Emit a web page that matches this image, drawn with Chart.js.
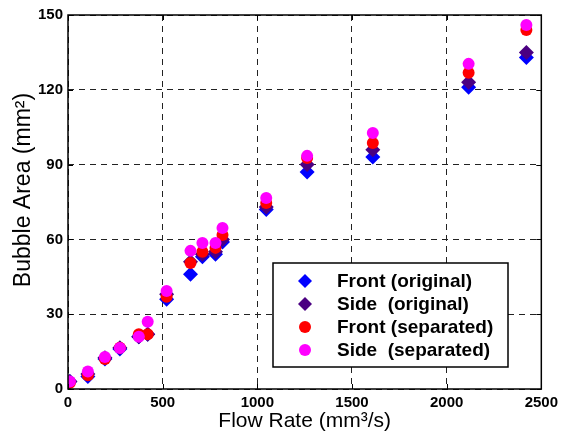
<!DOCTYPE html>
<html><head><meta charset="utf-8">
<script src="https://cdn.jsdelivr.net/npm/chart.js@4/dist/chart.umd.min.js"></script>
<style>html,body{margin:0;padding:0;background:#fff;}#wrap{width:563px;height:441px;position:relative;}</style>
</head><body><div id="wrap"><canvas id="c" width="563" height="441"></canvas></div>
<script>
const flowRates = [10, 105, 195, 274, 374, 421, 521, 647, 710, 779, 816, 1047, 1263, 1610, 2116, 2421];
const frontOriginal = [3, 5, 12, 16, 21, 22, 36, 46, 53, 54, 59, 72, 87, 93, 121, 133];
const sideOriginal = [3, 6, 12.5, 16.5, 21, 22, 38, 51, 54, 55, 60, 73, 90, 96, 123, 135];
const frontSeparated = [2.5, 5.5, 12, 16.5, 22, 22, 37, 50.5, 55, 56.6, 61.8, 74.6, 92.6, 98.7, 126.8, 144];
const sideSeparated = [3, 7, 12.8, 16.4, 21, 27, 39.3, 55.4, 58.6, 58.6, 64.6, 76.6, 93.5, 102.7, 130.4, 146];
const seriesLabels = ['Front (original)', 'Side  (original)', 'Front (separated)', 'Side  (separated)'];
const xTickValues = [0, 500, 1000, 1500, 2000, 2500];
const yTickValues = [0, 30, 60, 90, 120, 150];
const yTitleText = 'Bubble Area (mm²)';

const FONT = '"Liberation Sans", Arial, sans-serif';
function pts(ys){ return flowRates.map((x,i)=>({x:x,y:ys[i]})); }

const boxPlugin = {
  id:'box',
  afterDraw(chart){
    const {ctx, chartArea:a} = chart;
    const xs = chart.scales.x, ys = chart.scales.y;
    ctx.save();
    ctx.strokeStyle = '#000'; ctx.lineWidth = 1.5; ctx.setLineDash([]);
    ctx.strokeRect(a.left, a.top, a.right-a.left, a.bottom-a.top);
    ctx.lineWidth = 1;
    ctx.beginPath();
    xTickValues.forEach(v=>{
      const px = Math.round(xs.getPixelForValue(v))+0.5;
      ctx.moveTo(px, a.bottom); ctx.lineTo(px, a.bottom-5);
      ctx.moveTo(px, a.top); ctx.lineTo(px, a.top+5);
    });
    yTickValues.forEach(v=>{
      const py = Math.round(ys.getPixelForValue(v))+0.5;
      ctx.moveTo(a.left, py); ctx.lineTo(a.left+5, py);
      ctx.moveTo(a.right, py); ctx.lineTo(a.right-5, py);
    });
    ctx.stroke();
    // y axis title
    ctx.save();
    ctx.translate(24, 190);
    ctx.rotate(-Math.PI/2);
    ctx.font = '23px ' + FONT;
    ctx.fillStyle = '#000';
    ctx.textAlign = 'center';
    ctx.textBaseline = 'middle';
    ctx.fillText(yTitleText, 0, 0);
    ctx.restore();
    // legend
    const lx = 273, ly = 263, lw = 235, lh = 104;
    ctx.fillStyle = '#fff';
    ctx.fillRect(lx, ly, lw, lh);
    ctx.lineWidth = 1.5;
    ctx.strokeRect(lx, ly, lw, lh);
    const dsList = chart.data.datasets;
    ctx.font = 'bold 19px ' + FONT;
    ctx.textBaseline = 'middle';
    ctx.textAlign = 'left';
    seriesLabels.forEach((lab,i)=>{
      const ds = dsList.find(d=>d.label===lab);
      const cy = ly + 18 + i*23;
      ctx.fillStyle = ds.backgroundColor;
      ctx.beginPath();
      if (ds.pointStyle === 'rectRot') {
        ctx.moveTo(305-7,cy); ctx.lineTo(305,cy-7); ctx.lineTo(305+7,cy); ctx.lineTo(305,cy+7); ctx.closePath();
      } else {
        ctx.arc(305, cy, 6, 0, Math.PI*2);
      }
      ctx.fill();
      ctx.fillStyle = '#000';
      ctx.fillText(lab, 337, cy+1);
    });
    ctx.restore();
  }
};

new Chart(document.getElementById('c'), {
  type:'scatter',
  data:{datasets:[
    {label:seriesLabels[0], data:pts(frontOriginal), backgroundColor:'#0000ff', borderColor:'#0000ff', pointStyle:'rectRot', pointRadius:7.5, borderWidth:0, order:3},
    {label:seriesLabels[1], data:pts(sideOriginal), backgroundColor:'#4b0082', borderColor:'#4b0082', pointStyle:'rectRot', pointRadius:7.5, borderWidth:0, order:2},
    {label:seriesLabels[2], data:pts(frontSeparated), backgroundColor:'#ff0000', borderColor:'#ff0000', pointStyle:'circle', pointRadius:6, borderWidth:0, order:1},
    {label:seriesLabels[3], data:pts(sideSeparated), backgroundColor:'#ff00ff', borderColor:'#ff00ff', pointStyle:'circle', pointRadius:6, borderWidth:0, order:0}
  ]},
  options:{
    responsive:false, animation:false, maintainAspectRatio:false,
    layout:{padding:{top:15,right:20,left:0,bottom:0}},
    plugins:{legend:{display:false}, tooltip:{enabled:false}},
    scales:{
      x:{type:'linear', min:0, max:2500,
        afterBuildTicks(s){ s.ticks = xTickValues.map(v=>({value:v})); },
        afterFit(s){ s.height = 52; },
        ticks:{font:{family:FONT, size:15, weight:'bold'}, color:'#000', padding:5, maxRotation:0, callback:v=>String(v)},
        grid:{color:'#222', lineWidth:1, drawTicks:false},
        border:{display:false, dash:[6,5]},
        title:{display:true, text:'Flow Rate (mm³/s)', font:{family:FONT, size:21}, color:'#000', padding:{top:0,bottom:7}}
      },
      y:{type:'linear', min:0, max:150,
        afterBuildTicks(s){ s.ticks = yTickValues.map(v=>({value:v})); },
        afterFit(s){ s.width = 68; },
        ticks:{font:{family:FONT, size:15, weight:'bold'}, color:'#000', padding:5, callback:v=>String(v)},
        grid:{color:'#222', lineWidth:1, drawTicks:false},
        border:{display:false, dash:[6,5]},
        title:{display:false}
      }
    }
  },
  plugins:[boxPlugin]
});
</script></body></html>
